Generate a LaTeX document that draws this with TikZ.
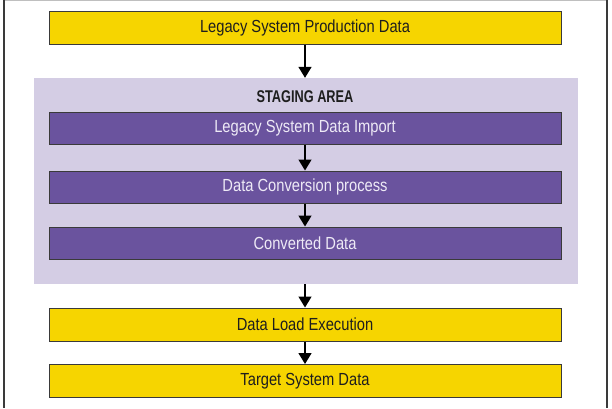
\documentclass[tikz,border=0pt]{standalone}
\usepackage{fontspec}
\setmainfont{Liberation Sans}[FakeStretch=0.84]
\newfontfamily\stagefont{Liberation Sans}[FakeStretch=0.75]
\usetikzlibrary{arrows.meta}
\definecolor{ybox}{HTML}{F6D500}
\definecolor{pbox}{HTML}{6A539E}
\definecolor{stage}{HTML}{D4CDE4}
\definecolor{edge}{HTML}{3A3A3A}
\definecolor{ptext}{HTML}{EEEAF6}
\definecolor{ytext}{HTML}{1E1E1E}
\tikzset{
  yellowbox/.style={draw=edge, line width=1pt, fill=ybox, minimum width=512pt, minimum height=33pt, inner sep=0pt, text=ytext, font=\fontsize{17.5}{20}\selectfont},
  purplebox/.style={draw=edge, line width=1pt, fill=pbox, minimum width=512pt, minimum height=32pt, inner sep=0pt, text=ptext, font=\fontsize{17.5}{20}\selectfont},
  flow/.style={line width=1.5pt, -{Triangle[width=13pt,length=11pt]}, black}
}
\begin{document}
\begin{tikzpicture}[x=1pt,y=-1pt]
\useasboundingbox (0,0) rectangle (612,408);
\fill[white] (0,0) rectangle (612,408);
% frame
\draw[line width=0.8pt, gray!50] (4,0.5) -- (607,0.5);
\draw[line width=1.5pt, edge] (4,0) -- (4,408);
\draw[line width=1.5pt, edge] (607,0) -- (607,408);
% staging area
\node[fill=stage, minimum width=544pt, minimum height=206pt, inner sep=0pt] (stage) at (306,181) {};
\node[font=\stagefont\bfseries\fontsize{17}{20}\selectfont, text=ytext] (stagelbl) at (305,97) {STAGING AREA};
% boxes
\node[yellowbox] (lspd) at (305,27.5) {Legacy System Production Data};
\node[purplebox] (imp) at (305,128) {Legacy System Data Import};
\node[purplebox] (conv) at (305,187) {Data Conversion process};
\node[purplebox] (cd) at (305,243) {Converted Data};
\node[yellowbox] (dle) at (305,324.5) {Data Load Execution};
\node[yellowbox] (tsd) at (305,381) {Target System Data};
% arrows
\draw[flow] (lspd.south) -- (lspd.south |- stage.north);
\draw[flow] (imp.south) -- (conv.north);
\draw[flow] (conv.south) -- (cd.north);
\draw[flow] (stage.south -| dle.north) -- (dle.north);
\draw[flow] (dle.south) -- (tsd.north);
\end{tikzpicture}
\end{document}
